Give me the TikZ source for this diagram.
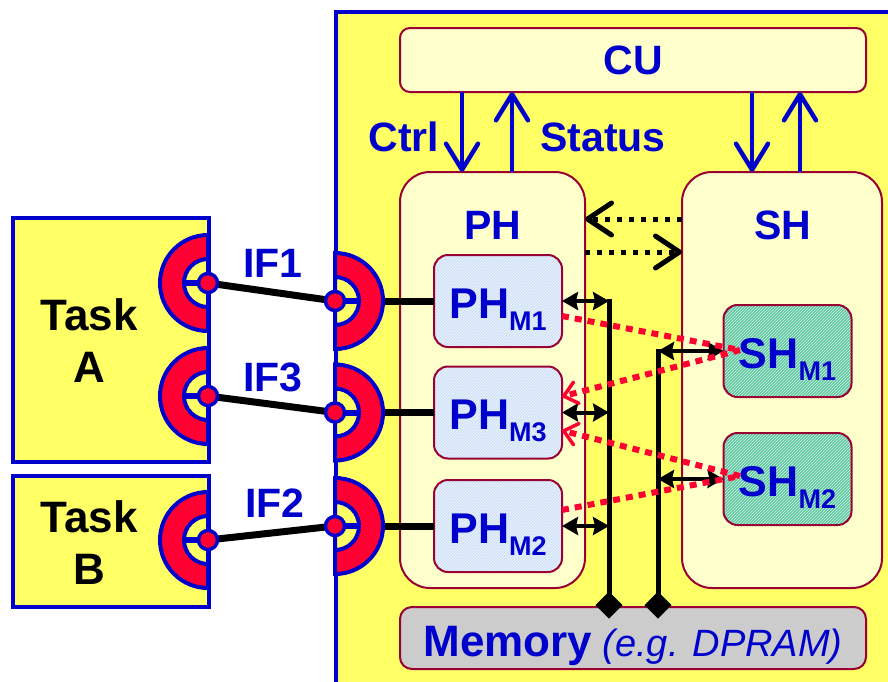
\documentclass[tikz,border=0pt]{standalone}
\usepackage{fontspec}
\setmainfont{Liberation Sans}
\usetikzlibrary{arrows.meta,patterns,shapes.geometric}
\definecolor{panelY}{HTML}{FFFF66}
\definecolor{lightY}{HTML}{FFFFCC}
\definecolor{bblue}{HTML}{0000CC}
\definecolor{rred}{HTML}{FF0033}
\definecolor{dred}{HTML}{990033}
\definecolor{phfill}{HTML}{CFE2F8}
\definecolor{phhatch}{HTML}{F4F8FF}
\definecolor{shfill}{HTML}{5CC8A0}
\definecolor{shhatch}{HTML}{D8F4E8}
\definecolor{memgray}{HTML}{CCCCCC}
\newcommand\subM[1]{\raisebox{-12pt}{\fontsize{27}{30}\selectfont #1}}
\tikzset{
  sockpic/.pic={
    \draw[fill=rred, draw=bblue, line width=4pt] (0,-48) arc[start angle=-90, end angle=90, radius=48] -- cycle;
    \draw[fill=panelY, draw=bblue, line width=4pt] (0,-24) arc[start angle=-90, end angle=90, radius=24] -- cycle;
    \draw[bblue, line width=6pt] (0,0) -- (24,0);
  }
}
\begin{document}
\begin{tikzpicture}[x=1pt,y=-1pt,
  every node/.style={inner sep=0pt, outer sep=0pt},
  lbl/.style={text=bblue, font=\bfseries\fontsize{41}{48}\selectfont},
  tasklbl/.style={text=black, align=center, font=\bfseries\fontsize{44}{52}\selectfont},
  ybox/.style={rectangle, draw=dred, line width=2pt, fill=lightY},
  hbox/.style={rectangle, draw=dred, line width=2pt, rounded corners=14pt,
    minimum width=128pt, minimum height=92pt, text=bblue,
    font=\bfseries\fontsize{43}{48}\selectfont, text height=40pt, text depth=6pt},
  phm/.style={hbox, preaction={fill=phfill}, preaction={pattern=north east lines, pattern color=phhatch}},
  shm/.style={hbox, preaction={fill=shfill}, preaction={pattern=north east lines, pattern color=shhatch}},
  taskbox/.style={rectangle, draw=bblue, line width=4pt, fill=panelY},
  dotn/.style={circle, fill=rred, draw=bblue, line width=3.5pt, minimum size=19pt},
  ifline/.style={line width=7pt, black},
  barrow/.style={draw=bblue, line width=4.5pt, -{Straight Barb[round, length=26pt, width=32pt, line width=4.5pt]}},
  dotarrow/.style={draw=black, line width=5pt, dash pattern=on 5pt off 7pt, -{Straight Barb[round, length=24pt, width=32pt, line width=5pt]}},
  reddot/.style={draw=rred, line width=6pt, dash pattern=on 7pt off 6pt},
  redarrow/.style={reddot, -{Straight Barb[round, length=13pt, width=22pt, line width=3.5pt]}},
  dbl/.style={draw=black, line width=4pt, {Stealth[length=16pt, width=18pt, inset=2pt]}-{Stealth[length=16pt, width=18pt, inset=2pt]}},
  busline/.style={draw=black, line width=5pt},
  diam/.style={diamond, fill=black, minimum width=27pt, minimum height=27pt}
]
\useasboundingbox (0,0) rectangle (888,681);
\fill[white] (0,0) rectangle (888,681);
% panel
\draw[fill=panelY, draw=bblue, line width=4pt] (336,12) rectangle (930,720);

% boxes
\node[ybox, rounded corners=10pt, minimum width=466pt, minimum height=64pt, lbl] (cu) at (633,60) {CU};
\node[ybox, rounded corners=30pt, minimum width=185pt, minimum height=416pt] (ph) at (492.5,380) {};
\node[ybox, rounded corners=30pt, minimum width=200pt, minimum height=416pt] (sh) at (782,380) {};
\node[lbl] (phlbl) at (493,225) {PH};
\node[lbl] (shlbl) at (783,225) {SH};
\node[rectangle, draw=dred, line width=2pt, fill=memgray, rounded corners=12pt,
      minimum width=466pt, minimum height=62pt, text=bblue, text height=36pt, text depth=0pt] (mem) at (633,638)
  {{\bfseries\fontsize{44}{50}\selectfont Memory}{\itshape\fontsize{38}{44}\selectfont\ (e.g. DPRAM)}};

\node[phm] (phm1) at (498,301) {PH\subM{M1}};
\node[phm] (phm3) at (498,412.5) {PH\subM{M3}};
\node[phm] (phm2) at (498,526) {PH\subM{M2}};
\node[shm] (shm1) at (787.5,351) {SH\subM{M1}};
\node[shm] (shm2) at (787.5,479) {SH\subM{M2}};

% CU arrows
\coordinate (xa) at (462,0);
\coordinate (xb) at (512,0);
\coordinate (xc) at (752,0);
\coordinate (xd) at (800,0);
\draw[barrow] (cu.south -| xa) -- (ph.north -| xa);
\draw[barrow] (ph.north -| xb) -- (cu.south -| xb);
\draw[barrow] (cu.south -| xc) -- (sh.north -| xc);
\draw[barrow] (sh.north -| xd) -- (cu.south -| xd);
\node[lbl] (ctrl) at (404,137) {Ctrl};
\node[lbl] (status) at (603,137) {Status};

% PH <-> SH dotted arrows
\coordinate (ya) at (0,219);
\coordinate (yb) at (0,252);
\draw[dotarrow] (sh.west |- ya) -- (ph.east |- ya);
\draw[dotarrow] (ph.east |- yb) -- (sh.west |- yb);

% task boxes
\node[taskbox, minimum width=196pt, minimum height=244pt] (taskA) at (111,340) {};
\node[taskbox, minimum width=196pt, minimum height=131pt] (taskB) at (111,541.5) {};
\node[tasklbl] (taskAl) at (89,341) {Task\\A};
\node[tasklbl] (taskBl) at (89,543) {Task\\B};

% socket centres
\coordinate (l1) at (208,283);
\coordinate (l3) at (208,396);
\coordinate (l2) at (208,540);
\coordinate (r1) at (335,301);
\coordinate (r3) at (335,412.5);
\coordinate (r2) at (335,526);

% lines from right sockets to PH modules (under sockets)
\draw[ifline] (r1) -- (r1 -| phm1.west);
\draw[ifline] (r3) -- (r3 -| phm3.west);
\draw[ifline] (r2) -- (r2 -| phm2.west);

% sockets
\pic[xscale=-1] at (l1) {sockpic};
\pic[xscale=-1] at (l3) {sockpic};
\pic[xscale=-1] at (l2) {sockpic};
\pic at (r1) {sockpic};
\pic at (r3) {sockpic};
\pic at (r2) {sockpic};

% IF links
\draw[ifline] (l1) -- (r1);
\draw[ifline] (l3) -- (r3);
\draw[ifline] (l2) -- (r2);
\node[dotn] (dl1) at (l1) {};
\node[dotn] (dl3) at (l3) {};
\node[dotn] (dl2) at (l2) {};
\node[dotn] (dr1) at (r1) {};
\node[dotn] (dr3) at (r3) {};
\node[dotn] (dr2) at (r2) {};
\node[lbl] (if1) at (273,263) {IF1};
\node[lbl] (if3) at (273,377) {IF3};
\node[lbl] (if2) at (275,503) {IF2};

% memory buses
\coordinate (bus1) at (609,0);
\coordinate (bus2) at (658,0);
\draw[busline] ([yshift=2.5pt]phm1.east -| bus1) -- (mem.north -| bus1);
\draw[busline] ([yshift=2.5pt]shm1.west -| bus2) -- (mem.north -| bus2);
\node[diam] (dia1) at ([yshift=2pt]mem.north -| bus1) {};
\node[diam] (dia2) at ([yshift=2pt]mem.north -| bus2) {};
\draw[dbl] (phm1.east) -- (phm1.east -| bus1);
\draw[dbl] (phm3.east) -- (phm3.east -| bus1);
\draw[dbl] (phm2.east) -- (phm2.east -| bus1);
\draw[dbl] (shm1.west -| bus2) -- (shm1.west);
\draw[dbl] (shm2.west -| bus2) -- (shm2.west);

% red dotted links
\coordinate (sx1) at (740,350);
\coordinate (sx2) at (740,476);
\draw[reddot] ([yshift=-15pt]phm1.east) -- (sx1);
\draw[redarrow] (sx1) -- ([yshift=16pt]phm3.east);
\draw[redarrow] (sx2) -- ([yshift=-18pt]phm3.east);
\draw[reddot] ([yshift=16pt]phm2.east) -- (sx2);
\end{tikzpicture}
\end{document}
